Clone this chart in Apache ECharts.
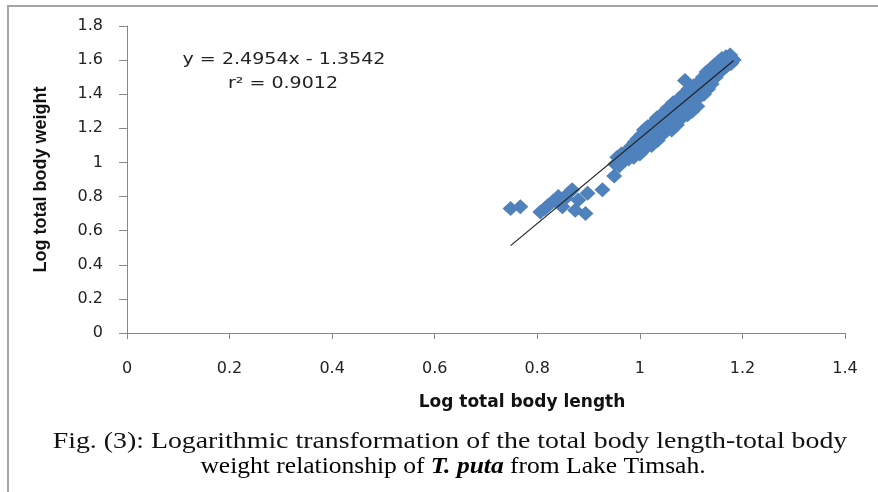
<!DOCTYPE html>
<html>
<head>
<meta charset="utf-8">
<script src="https://cdn.jsdelivr.net/npm/echarts@6/dist/echarts.min.js"></script>
<style>
  html, body { margin: 0; padding: 0; background: #fff; }
  #chart { position: absolute; left: 0; top: 0; width: 878px; height: 492px; }
  #frame { position: absolute; left: 7px; top: 5px; width: 871px; height: 487px;
           border-top: 2px solid #a6a6a6; border-left: 2px solid #a6a6a6; pointer-events: none; }
</style>
</head>
<body>
<div id="chart"></div>
<div id="frame"></div>
<script>
// log length / log weight pairs
var logLength = [
  0.748, 0.767, 0.806, 0.815, 0.822, 0.830, 0.835, 0.841, 0.849, 0.855, 0.861, 0.868, 0.874, 0.880, 0.894, 0.898, 0.927, 0.950,
  0.952, 0.956, 0.960, 0.964, 0.968, 0.972, 0.975, 0.978, 0.982, 0.985, 0.988, 0.990, 0.993, 0.996, 0.998,
  1.000, 1.002, 1.005, 1.008, 1.010, 1.012, 1.015, 1.018, 1.020, 1.023, 1.025, 1.028, 1.030, 1.033, 1.035, 1.038, 1.040,
  1.042, 1.045, 1.047, 1.050, 1.052, 1.055, 1.057, 1.060, 1.062, 1.065, 1.067, 1.070, 1.072, 1.075, 1.077, 1.080,
  1.082, 1.085, 1.087, 1.088, 1.090, 1.093, 1.095, 1.097, 1.100, 1.102, 1.105, 1.107, 1.110, 1.112, 1.115, 1.118,
  1.120, 1.123, 1.125, 1.128, 1.130, 1.133, 1.135, 1.138, 1.140, 1.143, 1.145, 1.148,
  1.150, 1.153, 1.156, 1.158, 1.160, 1.163, 1.166, 1.168, 1.171, 1.174, 1.176, 1.178, 1.180, 1.183
];
var logWeight = [
  0.73, 0.74, 0.71, 0.73, 0.75, 0.77, 0.78, 0.80, 0.74, 0.79, 0.82, 0.84, 0.72, 0.78, 0.70, 0.82, 0.84, 0.92,
  0.99, 1.03, 0.98, 1.05, 1.01, 1.04, 1.07, 1.02, 1.06, 1.10, 1.03, 1.12, 1.07, 1.14, 1.09,
  1.05, 1.16, 1.11, 1.19, 1.08, 1.14, 1.21, 1.12, 1.17, 1.10, 1.23, 1.15, 1.20, 1.26, 1.13, 1.18, 1.24,
  1.16, 1.29, 1.21, 1.18, 1.26, 1.32, 1.22, 1.29, 1.19, 1.35, 1.25, 1.31, 1.22, 1.37, 1.28, 1.34,
  1.26, 1.40, 1.31, 1.48, 1.36, 1.28, 1.43, 1.33, 1.39, 1.30, 1.45, 1.36, 1.41, 1.33, 1.47, 1.39,
  1.44, 1.50, 1.40, 1.46, 1.53, 1.43, 1.49, 1.55, 1.46, 1.51, 1.57, 1.50,
  1.54, 1.59, 1.53, 1.57, 1.61, 1.55, 1.59, 1.62, 1.57, 1.60, 1.63, 1.58, 1.61, 1.60
];
var xTicks = [0, 0.2, 0.4, 0.6, 0.8, 1, 1.2, 1.4];
var yTicks = [0, 0.2, 0.4, 0.6, 0.8, 1, 1.2, 1.4, 1.6, 1.8];
// linear trend from the figure
var slope = 2.4954, intercept = -1.3542, rSquared = 0.9012;

var points = logLength.map(function (x, i) { return [x, logWeight[i]]; });
var xMin = Math.min.apply(null, logLength), xMax = Math.max.apply(null, logLength);
var trend = [[xMin, slope * xMin + intercept], [xMax, slope * xMax + intercept]];

var chart = echarts.init(document.getElementById('chart'));
var tickFont = { fontFamily: 'DejaVu Sans', fontSize: 16, color: '#222' };

option = {
  animation: false,
  grid: { left: 127, right: 33, top: 26, bottom: 159 },
  xAxis: {
    type: 'value', min: xTicks[0], max: xTicks[xTicks.length - 1], interval: 0.2,
    name: 'Log total body length', nameLocation: 'middle', nameGap: 61,
    nameTextStyle: { fontFamily: 'DejaVu Sans', fontWeight: 'bold', fontSize: 17, color: '#111', padding: [0, 0, 0, 72] },
    axisLine: { lineStyle: { color: '#878787', width: 1 } },
    axisTick: { show: true, length: 6, lineStyle: { color: '#878787' } },
    axisLabel: Object.assign({ margin: 28 }, tickFont),
    splitLine: { show: false }
  },
  yAxis: {
    type: 'value', min: yTicks[0], max: yTicks[yTicks.length - 1], interval: 0.2,
    name: 'Log total body weight', nameLocation: 'middle', nameGap: 77,
    nameTextStyle: { fontFamily: 'Liberation Sans', fontWeight: 'bold', fontSize: 18, color: '#111' },
    axisLine: { show: true, lineStyle: { color: '#878787', width: 1 } },
    axisTick: { show: true, length: 8, lineStyle: { color: '#878787' } },
    axisLabel: Object.assign({ margin: 24 }, tickFont),
    splitLine: { show: false }
  },
  graphic: [
    { type: 'text', x: 284, y: 60, scaleX: 1.27, style: { text: 'y = ' + slope + 'x - ' + Math.abs(intercept), align: 'center', verticalAlign: 'middle',
      font: '15px "DejaVu Sans"', fill: '#222' } },
    { type: 'text', x: 283, y: 84, scaleX: 1.27, style: { text: 'r\u00b2 = ' + rSquared, align: 'center', verticalAlign: 'middle',
      font: '15px "DejaVu Sans"', fill: '#222' } },
    { type: 'text', x: 450, y: 442, scaleX: 1.21, style: { text: 'Fig. (3): Logarithmic transformation of the total body length-total body',
      align: 'center', verticalAlign: 'middle', font: '23px "Liberation Serif"', fill: '#111' } },
    { type: 'text', x: 453, y: 467, scaleX: 1.11, style: {
      text: '{n|weight relationship of }{b|T. puta}{n| from Lake Timsah.}',
      align: 'center', verticalAlign: 'middle',
      rich: {
        n: { fontFamily: 'Liberation Serif', fontSize: 23, color: '#111' },
        b: { fontFamily: 'Liberation Serif', fontSize: 23, fontWeight: 'bold', fontStyle: 'italic', color: '#111' }
      } } }
  ],
  series: [
    {
      name: 'fish', type: 'scatter', data: points,
      symbol: 'diamond', symbolSize: [16, 15],
      itemStyle: { color: '#4F81BD', opacity: 1 }
    },
    {
      name: 'trend', type: 'line', data: trend, showSymbol: false, symbol: 'none',
      lineStyle: { color: '#222', width: 1.2 }, z: 3
    }
  ]
};
chart.setOption(option);
</script>
</body>
</html>
